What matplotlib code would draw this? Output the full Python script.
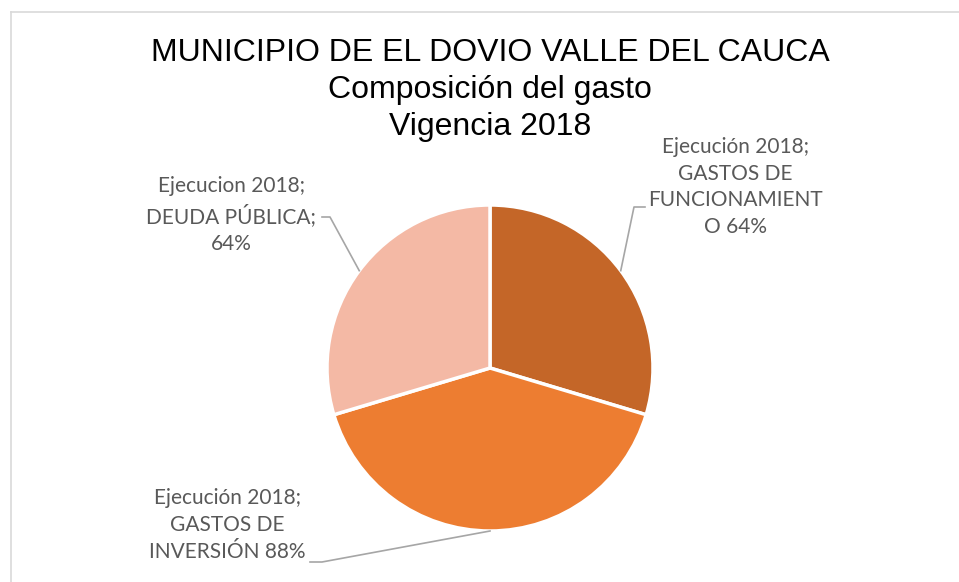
import matplotlib.pyplot as plt
import numpy as np
from matplotlib.lines import Line2D

# data
categories = ['GASTOS DE FUNCIONAMIENTO', 'GASTOS DE INVERSIÓN', 'DEUDA PÚBLICA']
values = [64, 88, 64]
labels = ['Ejecución 2018;\nGASTOS DE\nFUNCIONAMIENT\nO 64%',
          'Ejecución 2018;\nGASTOS DE\nINVERSIÓN 88%',
          'Ejecucion 2018;\nDEUDA PÚBLICA;\n64%']
colors = ['#C46628', '#ED7D31', '#F4B9A5']

W, H = 959, 582
fig = plt.figure(figsize=(W / 100, H / 100), dpi=100)

# gray chart frame (only top and left visible in the crop)
fig.add_artist(Line2D([11 / W, 11 / W], [0, 1 - 12 / H], color='#D9D9D9', lw=1.2))
fig.add_artist(Line2D([11 / W, 1], [1 - 12 / H, 1 - 12 / H], color='#D9D9D9', lw=1.2))

# pie axes: center (490, 368) px from top, radius 163 px
cx, cy, r = 490, H - 368, 163
ax = fig.add_axes([(cx - r) / W, (cy - r) / H, 2 * r / W, 2 * r / H])
wedges, _ = ax.pie(values, colors=colors, startangle=90, counterclock=False,
                   radius=1, wedgeprops=dict(edgecolor='white', linewidth=2.5))
ax.set_xlim(-1, 1)
ax.set_ylim(-1, 1)
ax.set_aspect('equal')
ax.axis('off')

fig.text(490 / W, 1 - 90 / H, 'MUNICIPIO DE EL DOVIO VALLE DEL CAUCA\nComposición del gasto\nVigencia 2018',
         ha='center', va='center', fontsize=23, family='Liberation Sans',
         linespacing=1.3, color='black')

# label positions (px from top-left), elbow points of leader lines
label_pos = [(735, 187), (227, 525), (231, 215)]
elbows = [[(645, 207), (634, 207)], [(310, 562), (322, 562)], [(322, 217), (330, 217)]]

for w, lab, (lx, ly), el in zip(wedges, labels, label_pos, elbows):
    mid = np.deg2rad((w.theta1 + w.theta2) / 2)
    ex, ey = cx + r * np.cos(mid), cy + r * np.sin(mid)
    fig.text(lx / W, 1 - ly / H, lab, ha='center', va='center', fontsize=15,
             family='Lato', color='#595959', linespacing=1.42)
    xs = [p[0] / W for p in el] + [ex / W]
    ys = [1 - p[1] / H for p in el] + [ey / H]
    fig.add_artist(Line2D(xs, ys, color='#A6A6A6', lw=1.2))

fig.savefig('out.png', dpi=100)
